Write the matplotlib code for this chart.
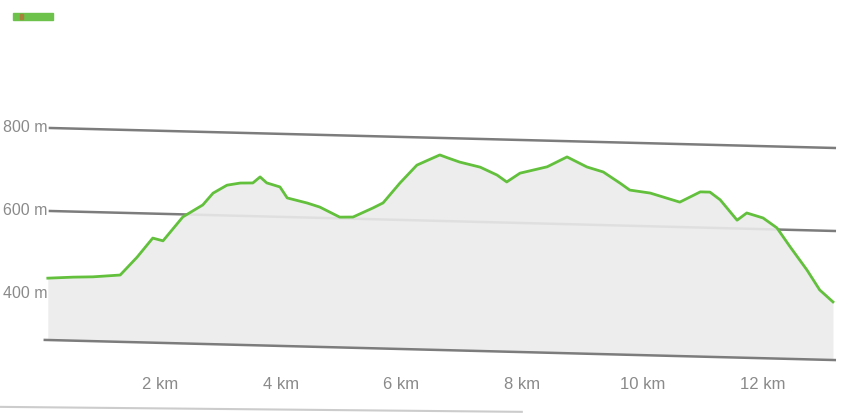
import numpy as np
import matplotlib.pyplot as plt
from matplotlib.transforms import Affine2D
from matplotlib.patches import Rectangle

# elevation profile
dist_km = [0.14, 0.56, 0.89, 1.34, 1.62, 1.88, 2.05, 2.38, 2.71, 2.88, 3.11, 3.33,
           3.54, 3.66, 3.77, 3.99, 4.11, 4.44, 4.65, 4.98, 5.20, 5.53, 5.70, 5.98,
           6.26, 6.42, 6.64, 6.78, 6.97, 7.31, 7.59, 7.75, 7.97, 8.42, 8.75, 9.08,
           9.35, 9.63, 9.79, 10.13, 10.62, 10.96, 11.12, 11.29, 11.57, 11.73, 12.00,
           12.23, 12.45, 12.73, 12.94, 13.16]
elev_m = [438, 442, 444, 450, 494, 541, 535, 594, 624, 653, 673, 679,
          680, 695, 681, 672, 646, 635, 626, 603, 604, 627, 640, 689,
          733, 744, 759, 752, 743, 732, 714, 698, 720, 737, 762, 739,
          728, 702, 686, 680, 660, 686, 686, 668, 620, 638, 627,
          604, 559, 504, 457, 429]

tick_km = [2, 4, 6, 8, 10, 12]
tick_labels = ["2 km", "4 km", "6 km", "8 km", "10 km", "12 km"]
grid_m = [800, 600]
ylab_m = [800, 600, 400]
ylab_txt = ["800 m", "600 m", "400 m"]
base_m = 289

fig = plt.figure(figsize=(8.44, 4.16), dpi=100)
ax = fig.add_axes([0, 0, 1, 1])
ax.axis("off")

# the scan is slightly tilted: shear everything a little
slope = 20 / 785
shear = Affine2D(np.array([[1, 0, 0], [-slope, 1, slope * 50], [0, 0, 1]]))
tr = ax.transData + shear

font = ["Liberation Sans", "DejaVu Sans"]
txtcol = "#8a8a8a"

for g in grid_m:
    ax.plot([0.175, 13.19], [g, g], color="#7c7c7c", lw=1.8, transform=tr, zorder=1)
ax.plot([0.09, 13.19], [base_m, base_m], color="#7c7c7c", lw=1.8, transform=tr, zorder=3)

ax.fill_between(dist_km, elev_m, base_m, color="#ebebeb", alpha=0.9, lw=0,
                transform=tr, zorder=2)
ax.plot(dist_km, elev_m, color="#62c03c", lw=2, transform=tr, zorder=4)

for m, t in zip(ylab_m, ylab_txt):
    ax.text(0.13, m, t, ha="right", va="center", fontsize=11.5, color=txtcol,
            family=font, transform=tr)

for k, t in zip(tick_km, tick_labels):
    ax.text(k, 181, t, ha="center", va="center", fontsize=12, color=txtcol, family=font)

# faint line along the bottom of the page
ax.plot([-0.65, 8.0], [128, 116], color="#cccccc", lw=1.5, zorder=1)

# small legend swatch top left
fig.patches.append(Rectangle((13 / 844, 396 / 416), 40 / 844, 7 / 416,
                             transform=fig.transFigure, color="#6cc24a"))
fig.patches.append(Rectangle((20 / 844, 397 / 416), 3 / 844, 5 / 416,
                             transform=fig.transFigure, color="#a8823a"))

ax.set_xlim(-0.653, 13.343)
ax.set_ylim(106, 1108.4)

fig.savefig("out.png", dpi=100)
